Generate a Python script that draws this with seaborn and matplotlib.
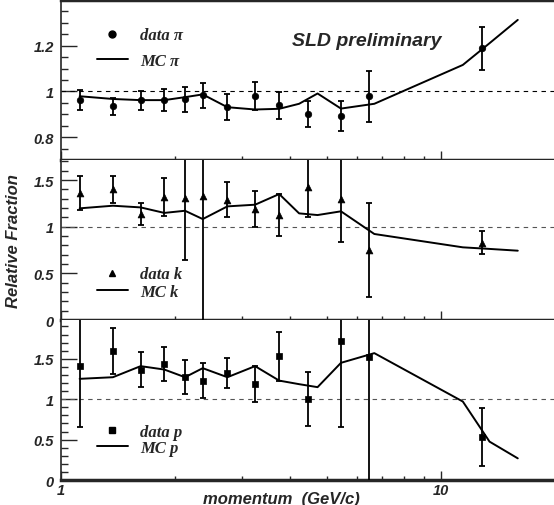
import numpy as np
import pandas as pd
import seaborn as sns
import matplotlib
matplotlib.use('Agg')
import matplotlib.pyplot as plt
from matplotlib.lines import Line2D
from matplotlib.legend_handler import HandlerLine2D
from matplotlib.ticker import FixedLocator, MultipleLocator, NullFormatter

# momentum bins (GeV/c)
data_x = [1.12, 1.37, 1.62, 1.87, 2.12, 2.36, 2.74, 3.24, 3.75, 4.46, 5.45, 6.46, 12.8]
mc_x = [1.12, 1.37, 1.62, 1.87, 2.12, 2.36, 2.74, 3.24, 3.75, 4.23, 4.73, 5.45, 6.67, 11.4, 13.4, 15.9]

# pions
pi_data = [0.962, 0.935, 0.962, 0.962, 0.965, 0.984, 0.931, 0.979, 0.940, 0.900, 0.891, 0.979, 1.188]
pi_err = [0.045, 0.038, 0.042, 0.049, 0.053, 0.055, 0.056, 0.062, 0.059, 0.057, 0.066, 0.111, 0.095]
pi_mc = [0.979, 0.967, 0.962, 0.962, 0.975, 0.987, 0.931, 0.921, 0.924, 0.946, 0.991, 0.925, 0.946, 1.116, 1.211, 1.313]

# kaons
k_data = [1.364, 1.400, 1.134, 1.317, 1.304, 1.325, 1.290, 1.188, 1.124, 1.430, 1.297, 0.750, 0.829]
k_err = [0.180, 0.147, 0.116, 0.205, 0.660, 1.600, 0.190, 0.195, 0.227, 0.330, 0.464, 0.500, 0.120]
k_mc = [1.197, 1.225, 1.207, 1.148, 1.171, 1.082, 1.218, 1.236, 1.350, 1.143, 1.125, 1.165, 0.922, 0.779, 0.762, 0.743]

# protons
p_data = [1.409, 1.597, 1.365, 1.437, 1.272, 1.231, 1.326, 1.194, 1.533, 1.004, 1.726, 1.528, 0.529]
p_err = [0.756, 0.283, 0.217, 0.215, 0.207, 0.219, 0.186, 0.223, 0.304, 0.330, 1.070, 1.600, 0.359]
p_mc = [1.252, 1.272, 1.409, 1.367, 1.272, 1.384, 1.272, 1.409, 1.230, 1.186, 1.149, 1.450, 1.570, 0.971, 0.475, 0.268]


class RightMarker(HandlerLine2D):
    # ROOT style legend: marker sits at the right end of the sample
    def get_xdata(self, legend, xdescent, ydescent, width, height, fontsize):
        return [-xdescent, -xdescent + width], [-xdescent + width - 1]


sns.set_theme(style='ticks')
plt.rcParams['font.family'] = ['Liberation Sans', 'DejaVu Sans']
tick_font = dict(weight='bold', style='italic', size=10.5)
leg_font = dict(family=['Liberation Serif', 'DejaVu Serif'], weight='bold', style='italic', size=12)

fig, axes = plt.subplots(3, 1, figsize=(5.54, 5.06), dpi=100, sharex=True)
fig.subplots_adjust(left=0.110, right=1.0, top=0.998, bottom=0.0494, hspace=0)

panels = [
    dict(data=pi_data, err=pi_err, mc=pi_mc, marker='o', s=22, ylim=(0.7, 1.4),
         ticks=[0.8, 1.0, 1.2], labels=['0.8', '1', '1.2'], minor=0.05,
         names=['data \u03c0', 'MC \u03c0'], leg_y=0.70, spacing=0.55, dash='black'),
    dict(data=k_data, err=k_err, mc=k_mc, marker='^', s=24, ylim=(0, 1.715),
         ticks=[0, 0.5, 1.0, 1.5], labels=['0', '0.5', '1', '1.5'], minor=0.1,
         names=['data k', 'MC k'], leg_y=0.231, spacing=0.07, dash='#555555'),
    dict(data=p_data, err=p_err, mc=p_mc, marker='s', s=20, ylim=(0, 1.98),
         ticks=[0, 0.5, 1.0, 1.5], labels=['0', '0.5', '1', '1.5'], minor=0.1,
         names=['data p', 'MC p'], leg_y=0.253, spacing=0.0, dash='#555555'),
]

for i, (ax, pn) in enumerate(zip(axes, panels)):
    ax.set_xscale('log')
    ax.set_xlim(1, 19.8)
    ax.set_ylim(*pn['ylim'])

    ax.axhline(1.0, color=pn['dash'], lw=0.8, ls=(0, (4, 4)), zorder=1)
    sns.lineplot(x=mc_x, y=pn['mc'], ax=ax, color='black', lw=1.4, sort=False,
                 estimator=None, zorder=2)
    ax.errorbar(data_x, pn['data'], yerr=pn['err'], fmt='none', ecolor='black',
                elinewidth=1.3, capsize=2.3, capthick=1.3, zorder=3)
    sns.scatterplot(x=data_x, y=pn['data'], ax=ax, marker=pn['marker'], s=pn['s'],
                    color='black', edgecolor='black', linewidth=0.5, zorder=4)

    # axes frame
    ax.spines['right'].set_visible(False)
    ax.spines['top'].set_visible(i == 0)
    ax.spines['top'].set_linewidth(2.5)
    ax.spines['bottom'].set_linewidth(2.5)
    ax.spines['left'].set_linewidth(1.2)

    ax.yaxis.set_major_locator(FixedLocator(pn['ticks']))
    ax.set_yticklabels(pn['labels'], fontdict=tick_font)
    ax.yaxis.set_minor_locator(MultipleLocator(pn['minor']))
    ax.tick_params(axis='y', which='major', direction='in', length=11.5, width=1, pad=5)
    ax.tick_params(axis='y', which='minor', direction='in', length=5, width=1)

    ax.xaxis.set_major_locator(FixedLocator([1, 10]))
    ax.xaxis.set_minor_locator(FixedLocator([2, 3, 4, 5, 6, 7, 8, 9]))
    ax.xaxis.set_minor_formatter(NullFormatter())
    ax.tick_params(axis='x', which='major', direction='in', length=6.5, width=1, pad=2)
    ax.tick_params(axis='x', which='minor', direction='in', length=3, width=1)

    h_data = Line2D([], [], marker=pn['marker'], ls='none', color='black', markersize=5)
    h_mc = Line2D([], [], color='black', lw=1.4)
    ax.legend([h_data, h_mc], pn['names'], handler_map={h_data: RightMarker(numpoints=1)},
              loc='center left', bbox_to_anchor=(0.073, pn['leg_y']), frameon=False,
              borderpad=0, borderaxespad=0, handlelength=1.86, handletextpad=0.72,
              labelspacing=pn['spacing'], prop=leg_font)

    ax.set_xlabel('')
    ax.set_ylabel('')

axes[0].text(0.469, 0.75, 'SLD preliminary', transform=axes[0].transAxes,
             ha='left', va='center', fontsize=14, weight='bold', style='italic')

axes[1].set_ylabel('Relative Fraction', fontsize=12, weight='bold', style='italic')
axes[1].yaxis.set_label_coords(-40 / 493, 0.5)

axes[2].set_xticklabels(['1', '10'], fontdict=tick_font)
axes[2].set_xlabel('momentum  (GeV/c)', fontsize=12, weight='bold', style='italic', va='center')
axes[2].xaxis.set_label_coords(0.448, -0.1125)

fig.savefig('out.png', dpi=100)
